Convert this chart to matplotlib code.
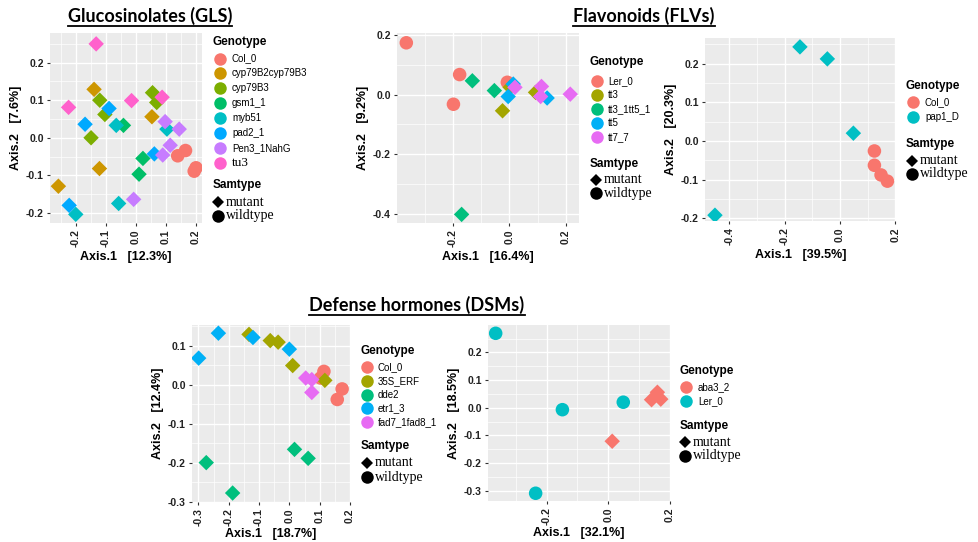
import matplotlib
matplotlib.use("Agg")
import matplotlib.pyplot as plt
from matplotlib.lines import Line2D
import numpy as np

W, H = 979, 542

# ---------------- DATA ----------------
# Glucosinolates (GLS)
gls_genotypes = ["Col_0", "cyp79B2cyp79B3", "cyp79B3", "gsm1_1", "myb51", "pad2_1", "Pen3_1NahG", "tu3"]
gls_colors = ["#F8766D", "#CD9600", "#7CAE00", "#00BE67", "#00BFC4", "#00A9FF", "#C77CFF", "#FF61CC"]
gls_x = {
    "Col_0": [0.139, 0.165, 0.194, 0.200],
    "cyp79B2cyp79B3": [-0.140, 0.053, -0.122, -0.259],
    "cyp79B3": [-0.121, -0.104, -0.150, 0.055, 0.069],
    "gsm1_1": [-0.042, 0.023, 0.010],
    "myb51": [-0.066, 0.103, -0.058, -0.201],
    "pad2_1": [-0.090, -0.170, 0.061, -0.223],
    "Pen3_1NahG": [0.097, 0.144, 0.114, 0.089, -0.008],
    "tu3": [-0.133, -0.225, -0.015, 0.087],
}
gls_y = {
    "Col_0": [-0.048, -0.034, -0.089, -0.080],
    "cyp79B2cyp79B3": [0.129, 0.056, -0.082, -0.129],
    "cyp79B3": [0.100, 0.062, 0.000, 0.120, 0.094],
    "gsm1_1": [0.033, -0.055, -0.097],
    "myb51": [0.033, 0.023, -0.175, -0.204],
    "pad2_1": [0.078, 0.036, -0.043, -0.180],
    "Pen3_1NahG": [0.043, 0.023, -0.020, -0.046, -0.164],
    "tu3": [0.250, 0.081, 0.099, 0.108],
}
gls_wild = ["Col_0"]

# Flavonoids (FLVs) - panel 1
flv1_genotypes = ["Ler_0", "tt3", "tt3_1tt5_1", "tt5", "tt7_7"]
flv1_colors = ["#F8766D", "#A3A500", "#00BF7D", "#00B0F6", "#E76BF3"]
flv1_x = {
    "Ler_0": [-0.365, -0.176, -0.198, -0.007],
    "tt3": [-0.024, 0.093, 0.003],
    "tt3_1tt5_1": [-0.131, -0.053, -0.169],
    "tt5": [-0.004, 0.014, 0.134],
    "tt7_7": [0.020, 0.114, 0.111, 0.216],
}
flv1_y = {
    "Ler_0": [0.175, 0.068, -0.032, 0.042],
    "tt3": [-0.054, 0.008, 0.025],
    "tt3_1tt5_1": [0.047, 0.014, -0.403],
    "tt5": [-0.006, 0.036, -0.011],
    "tt7_7": [0.025, 0.028, -0.006, 0.002],
}
flv1_wild = ["Ler_0"]

# Flavonoids (FLVs) - panel 2
flv2_genotypes = ["Col_0", "pap1_D"]
flv2_colors = ["#F8766D", "#00BFC4"]
flv2_x = {
    "Col_0": [0.124, 0.124, 0.148, 0.171],
    "pap1_D": [-0.145, -0.046, 0.048, -0.452],
}
flv2_y = {
    "Col_0": [-0.026, -0.063, -0.088, -0.104],
    "pap1_D": [0.243, 0.212, 0.020, -0.192],
}
flv2_wild = ["Col_0"]

# Defense hormones (DSMs) - panel 1
dsm1_genotypes = ["Col_0", "35S_ERF", "dde2", "etr1_3", "fad7_1fad8_1"]
dsm1_colors = ["#F8766D", "#A3A500", "#00BF7D", "#00B0F6", "#E76BF3"]
dsm1_x = {
    "Col_0": [0.114, 0.103, 0.174, 0.158],
    "35S_ERF": [-0.133, -0.063, -0.037, 0.011, 0.117],
    "dde2": [-0.274, -0.187, 0.017, 0.062],
    "etr1_3": [-0.299, -0.234, -0.120, 0.000],
    "fad7_1fad8_1": [0.054, 0.074, 0.074],
}
dsm1_y = {
    "Col_0": [0.034, 0.017, -0.011, -0.038],
    "35S_ERF": [0.129, 0.113, 0.109, 0.049, 0.011],
    "dde2": [-0.200, -0.278, -0.166, -0.189],
    "etr1_3": [0.068, 0.132, 0.121, 0.091],
    "fad7_1fad8_1": [0.017, 0.013, -0.020],
}
dsm1_wild = ["Col_0"]

# Defense hormones (DSMs) - panel 2
dsm2_genotypes = ["aba3_2", "Ler_0"]
dsm2_colors = ["#F8766D", "#00BFC4"]
dsm2_x = {
    "aba3_2": [0.013, 0.141, 0.160, 0.171],
    "Ler_0": [-0.366, -0.149, 0.049, -0.236],
}
dsm2_y = {
    "aba3_2": [-0.121, 0.029, 0.056, 0.031],
    "Ler_0": [0.269, -0.007, 0.020, -0.309],
}
dsm2_wild = ["Ler_0"]

samtypes = ["mutant", "wildtype"]

# ---------------- FIGURE ----------------
fig = plt.figure(figsize=(W / 100, H / 100), dpi=100)
fig.patch.set_facecolor("white")

def fx(x):
    return x / W

def fy(y):
    return 1 - y / H

def make_ax(x0, y0, x1, y1):
    return fig.add_axes([fx(x0), fy(y1), fx(x1) - fx(x0), (y1 - y0) / H])

SANS = ["Liberation Sans", "DejaVu Sans"]
SERIF = ["Liberation Serif", "DejaVu Serif"]

def style_ax(ax, xlim, ylim, xticks, yticks, xlab, ylab, xpad=3):
    ax.set_facecolor("#EBEBEB")
    ax.set_xlim(*xlim)
    ax.set_ylim(*ylim)
    ax.set_xticks(xticks)
    ax.set_yticks(yticks)
    ax.set_xticklabels([f"{t:.1f}" for t in xticks], rotation=90, fontsize=7.5,
                       fontweight="bold", color="#222222", family=SANS)
    ax.set_yticklabels([f"{t:.1f}" for t in yticks], fontsize=7.5,
                       fontweight="bold", color="#222222", family=SANS)
    xt = np.array(xticks)
    yt = np.array(yticks)
    dx = xt[1] - xt[0]
    dy = yt[1] - yt[0]
    minx = np.arange(xt[0] - dx / 2, xlim[1] + dx, dx)
    miny = np.arange(yt[0] - dy / 2, ylim[1] + dy, dy)
    ax.set_xticks(minx[(minx > xlim[0]) & (minx < xlim[1])], minor=True)
    ax.set_yticks(miny[(miny > ylim[0]) & (miny < ylim[1])], minor=True)
    ax.grid(True, which="major", color="white", linewidth=1.0)
    ax.grid(True, which="minor", color="white", linewidth=0.5)
    ax.set_axisbelow(True)
    for s in ax.spines.values():
        s.set_visible(False)
    ax.tick_params(which="major", length=2.5, color="#333333", pad=2)
    ax.tick_params(which="minor", length=0)
    ax.set_xlabel(xlab, fontsize=9, fontweight="bold", family=SANS, labelpad=xpad)
    ax.set_ylabel(ylab, fontsize=9, fontweight="bold", family=SANS, labelpad=3)

def plot_points(ax, genotypes, colors, xs, ys, wild):
    for g, c in zip(genotypes, colors):
        if g in wild:
            ax.scatter(xs[g], ys[g], s=95, marker="o", color=c, edgecolors="none", zorder=3)
        else:
            ax.scatter(xs[g], ys[g], s=62, marker="D", color=c, edgecolors="none", zorder=3)

def legend(x0, ytitle, key_x, key_y0, dy, lab_x, genotypes, colors, samt_y, mut_y, wild_y, skey_x, serif_labels=()):
    fig.text(fx(x0), fy(ytitle), "Genotype", fontsize=8.5, fontweight="bold",
             family=SANS, va="center", ha="left")
    for i, (g, c) in enumerate(zip(genotypes, colors)):
        yy = key_y0 + i * dy
        fig.add_artist(Line2D([fx(key_x)], [fy(yy)], marker="o", markersize=9,
                              color=c, markeredgewidth=0, transform=fig.transFigure))
        if g in serif_labels:
            fig.text(fx(lab_x), fy(yy), g, fontsize=9.5, family=SERIF, va="center", ha="left")
        else:
            fig.text(fx(lab_x), fy(yy), g, fontsize=7, family=SANS, va="center", ha="left")
    fig.text(fx(x0), fy(samt_y), "Samtype", fontsize=8.5, fontweight="bold",
             family=SANS, va="center", ha="left")
    fig.add_artist(Line2D([fx(skey_x)], [fy(mut_y)], marker="D", markersize=6.5,
                          color="black", markeredgewidth=0, transform=fig.transFigure))
    fig.add_artist(Line2D([fx(skey_x)], [fy(wild_y)], marker="o", markersize=9,
                          color="black", markeredgewidth=0, transform=fig.transFigure))
    fig.text(fx(skey_x + 8), fy(mut_y), samtypes[0], fontsize=10, family=SERIF, va="center", ha="left")
    fig.text(fx(skey_x + 8), fy(wild_y), samtypes[1], fontsize=10, family=SERIF, va="center", ha="left")

def title(xc, yc, txt):
    t = fig.text(fx(xc), fy(yc), txt, fontsize=13, fontweight="bold",
                 family=["Lato", "DejaVu Sans"], ha="center", va="center")
    fig.canvas.draw()
    bb = t.get_window_extent()
    fig.add_artist(Line2D([bb.x0 / W, bb.x1 / W], [(bb.y0 - 1) / H, (bb.y0 - 1) / H],
                          color="black", linewidth=1.3, transform=fig.transFigure))

# GLS panel
ax1 = make_ax(50, 33, 202, 223)
style_ax(ax1, (-0.287, 0.22), (-0.227, 0.279), [-0.2, -0.1, 0.0, 0.1, 0.2],
         [-0.2, -0.1, 0.0, 0.1, 0.2], "Axis.1   [12.3%]", "Axis.2   [7.6%]")
plot_points(ax1, gls_genotypes, gls_colors, gls_x, gls_y, gls_wild)
legend(213, 42, 220, 58.5, 14.9, 232, gls_genotypes, gls_colors, 185, 202, 216, 218,
       serif_labels=("tu3",))

# FLV panel 1
ax2 = make_ax(397, 33, 579, 223)
style_ax(ax2, (-0.398, 0.247), (-0.432, 0.208), [-0.2, 0.0, 0.2],
         [-0.4, -0.2, 0.0, 0.2], "Axis.1   [16.4%]", "Axis.2   [9.2%]")
plot_points(ax2, flv1_genotypes, flv1_colors, flv1_x, flv1_y, flv1_wild)
legend(590, 62, 597, 81, 14, 608, flv1_genotypes, flv1_colors, 164, 180, 193, 596)

# FLV panel 2
ax3 = make_ax(705, 38, 896, 221)
style_ax(ax3, (-0.488, 0.202), (-0.207, 0.266), [-0.4, -0.2, 0.0, 0.2],
         [-0.2, -0.1, 0.0, 0.1, 0.2], "Axis.1   [39.5%]", "Axis.2   [20.3%]")
plot_points(ax3, flv2_genotypes, flv2_colors, flv2_x, flv2_y, flv2_wild)
legend(906, 86, 913, 102, 14.5, 925, flv2_genotypes, flv2_colors, 144, 161, 174, 912)

# DSM panel 1
ax4 = make_ax(192, 325, 350, 502)
style_ax(ax4, (-0.321, 0.196), (-0.301, 0.153), [-0.3, -0.2, -0.1, 0.0, 0.1, 0.2],
         [-0.3, -0.2, -0.1, 0.0, 0.1], "Axis.1   [18.7%]", "Axis.2   [12.4%]", xpad=1)
plot_points(ax4, dsm1_genotypes, dsm1_colors, dsm1_x, dsm1_y, dsm1_wild)
legend(361, 351, 367, 367, 13.75, 378, dsm1_genotypes, dsm1_colors, 446, 463, 477, 367)

# DSM panel 2
ax5 = make_ax(488, 325, 670, 501)
style_ax(ax5, (-0.391, 0.201), (-0.337, 0.299), [-0.2, 0.0, 0.2],
         [-0.3, -0.2, -0.1, 0.0, 0.1, 0.2], "Axis.1   [32.1%]", "Axis.2   [18.5%]", xpad=1)
plot_points(ax5, dsm2_genotypes, dsm2_colors, dsm2_x, dsm2_y, dsm2_wild)
legend(680, 371, 686, 387, 14, 698, dsm2_genotypes, dsm2_colors, 426, 442, 456, 685)

# titles
title(150, 16, "Glucosinolates (GLS)")
title(644, 16, "Flavonoids (FLVs)")
title(417, 305, "Defense hormones (DSMs)")

fig.savefig("out.png", dpi=100, facecolor="white")
